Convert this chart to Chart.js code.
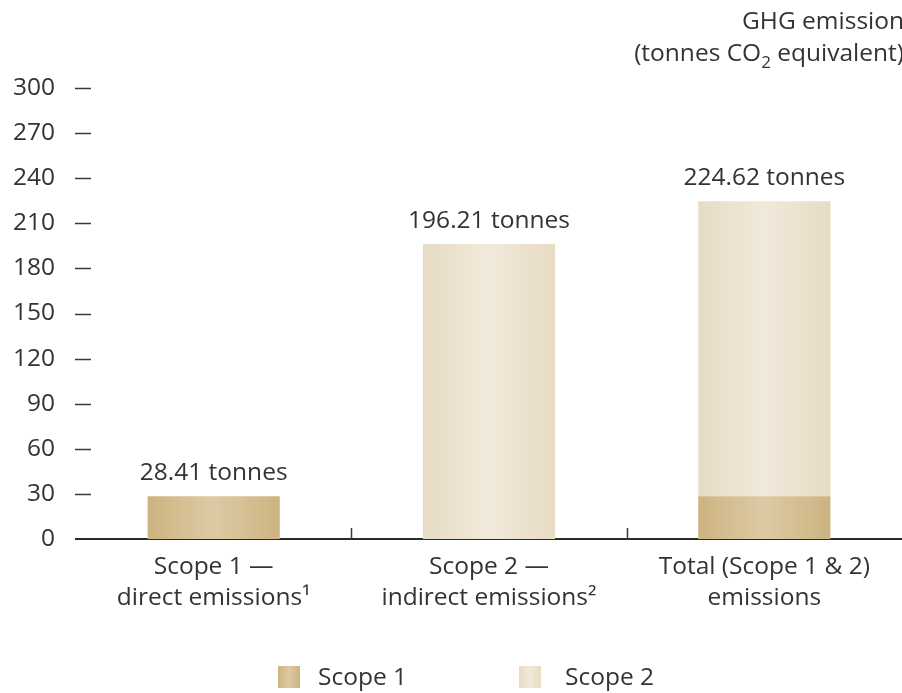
<!DOCTYPE html>
<html>
<head>
<meta charset="utf-8" />
<title>GHG emissions</title>
<script src="https://cdn.jsdelivr.net/npm/chart.js"></script>
<style>
  html, body { margin: 0; padding: 0; background: #fff; }
</style>
</head>
<body>
<canvas id="ghg" width="902" height="693"></canvas>
<script>
  // data
  var categories = [
    ["Scope 1 \u2014", "direct emissions\u00b9"],
    ["Scope 2 \u2014", "indirect emissions\u00b2"],
    ["Total (Scope 1 & 2)", "emissions"]
  ];
  var scope1 = [28.41, null, 28.41];
  var scope2 = [null, 196.21, 196.21];
  var seriesNames = ["Scope 1", "Scope 2"];
  var yMin = 0, yMax = 300, yStep = 30;

  var textColor = "#333333";
  var font = "'Open Sans', 'Noto Sans', sans-serif";
  var fs = 24.5;

  // gold / cream shades, edge -> middle
  var shades = [["#cdb380", "#ddcaa4"], ["#e7dbc3", "#f1e9db"]];

  function barFill(edge, mid) {
    return function (ctx) {
      var chart = ctx.chart, xs = chart.scales.x;
      if (ctx.type !== "data" || !xs || !chart.chartArea) return edge;
      var cx = xs.getPixelForValue(ctx.dataIndex);
      var half = (xs.width / categories.length) * 0.48 / 2;
      var g = chart.ctx.createLinearGradient(cx - half, 0, cx + half, 0);
      g.addColorStop(0, edge);
      g.addColorStop(0.5, mid);
      g.addColorStop(1, edge);
      return g;
    };
  }

  // ---------------------------------------------
  // dashes on the y axis, category separators, totals, title, legend
  var extras = {
    id: "extras",
    beforeDatasetsDraw: function (chart) {
      var c = chart.ctx, a = chart.chartArea;
      var ys = chart.scales.y, xs = chart.scales.x;
      c.save();
      c.strokeStyle = "#3a3a3a";
      c.lineWidth = 1.5;
      ys.ticks.forEach(function (t) {
        if (t.value === 0) return;
        var y = Math.round(ys.getPixelForValue(t.value)) + 0.5;
        c.beginPath();
        c.moveTo(a.left - 1, y);
        c.lineTo(a.left + 15, y);
        c.stroke();
      });
      for (var i = 1; i < categories.length; i++) {
        var x = Math.round((xs.getPixelForValue(i - 1) + xs.getPixelForValue(i)) / 2) + 0.5;
        c.beginPath();
        c.moveTo(x, a.bottom);
        c.lineTo(x, a.bottom - 11);
        c.stroke();
      }
      c.restore();
    },
    afterDatasetsDraw: function (chart) {
      var c = chart.ctx, ys = chart.scales.y, xs = chart.scales.x;
      c.save();
      c.font = fs + "px " + font;
      c.fillStyle = textColor;
      c.textAlign = "center";
      c.textBaseline = "alphabetic";
      for (var i = 0; i < categories.length; i++) {
        var total = (scope1[i] || 0) + (scope2[i] || 0);
        c.fillText(total.toFixed(2) + " tonnes", xs.getPixelForValue(i), ys.getPixelForValue(total) - 16);
      }
      c.restore();
    },
    afterDraw: function (chart) {
      var c = chart.ctx;
      c.save();
      c.font = fs + "px " + font;
      c.fillStyle = textColor;
      c.textBaseline = "alphabetic";
      // title, right aligned (runs off the edge like the original)
      var right = 904;
      c.textAlign = "right";
      c.fillText("GHG emission", right, 29);
      var tail = " equivalent)";
      var head = "(tonnes CO";
      var wTail = c.measureText(tail).width;
      c.fillText(tail, right, 61);
      c.font = "17px " + font;
      var wSub = c.measureText("2").width;
      c.fillText("2", right - wTail, 68);
      c.font = fs + "px " + font;
      c.fillText(head, right - wTail - wSub, 61);

      // legend
      c.textAlign = "left";
      c.textBaseline = "middle";
      var lx = [278, 519];
      for (var i = 0; i < seriesNames.length; i++) {
        var g = c.createLinearGradient(lx[i], 0, lx[i] + 22, 0);
        g.addColorStop(0, shades[i][0]);
        g.addColorStop(0.5, shades[i][1]);
        g.addColorStop(1, shades[i][0]);
        c.fillStyle = g;
        c.fillRect(lx[i], 666, 22, 22);
        c.fillStyle = textColor;
        c.fillText(seriesNames[i], lx[i] + 40 + i * 6, 678);
      }
      c.restore();
    }
  };

  new Chart(document.getElementById("ghg"), {
    type: "bar",
    data: {
      labels: categories,
      datasets: [
        {
          label: seriesNames[0],
          data: scope1,
          backgroundColor: barFill(shades[0][0], shades[0][1]),
          barPercentage: 0.6,
          categoryPercentage: 0.8
        },
        {
          label: seriesNames[1],
          data: scope2,
          backgroundColor: barFill(shades[1][0], shades[1][1]),
          barPercentage: 0.6,
          categoryPercentage: 0.8
        }
      ]
    },
    options: {
      responsive: false,
      animation: false,
      layout: { padding: { top: 88, left: 0, right: 0, bottom: 0 } },
      plugins: {
        legend: { display: false },
        tooltip: { enabled: false }
      },
      scales: {
        x: {
          stacked: true,
          offset: true,
          grid: { display: false, drawTicks: false },
          border: { display: true, color: "#2b2b2b", width: 2 },
          ticks: {
            color: textColor,
            font: { family: font, size: fs, lineHeight: 1.27 },
            padding: 12,
            maxRotation: 0,
            autoSkip: false
          },
          afterFit: function (s) { s.height = 154; }
        },
        y: {
          stacked: true,
          min: yMin,
          max: yMax,
          grid: { display: false, drawTicks: false },
          border: { display: false },
          ticks: {
            stepSize: yStep,
            color: textColor,
            font: { family: font, size: fs },
            padding: 21
          },
          afterFit: function (s) { s.width = 76; }
        }
      }
    },
    plugins: [extras]
  });
</script>
</body>
</html>
